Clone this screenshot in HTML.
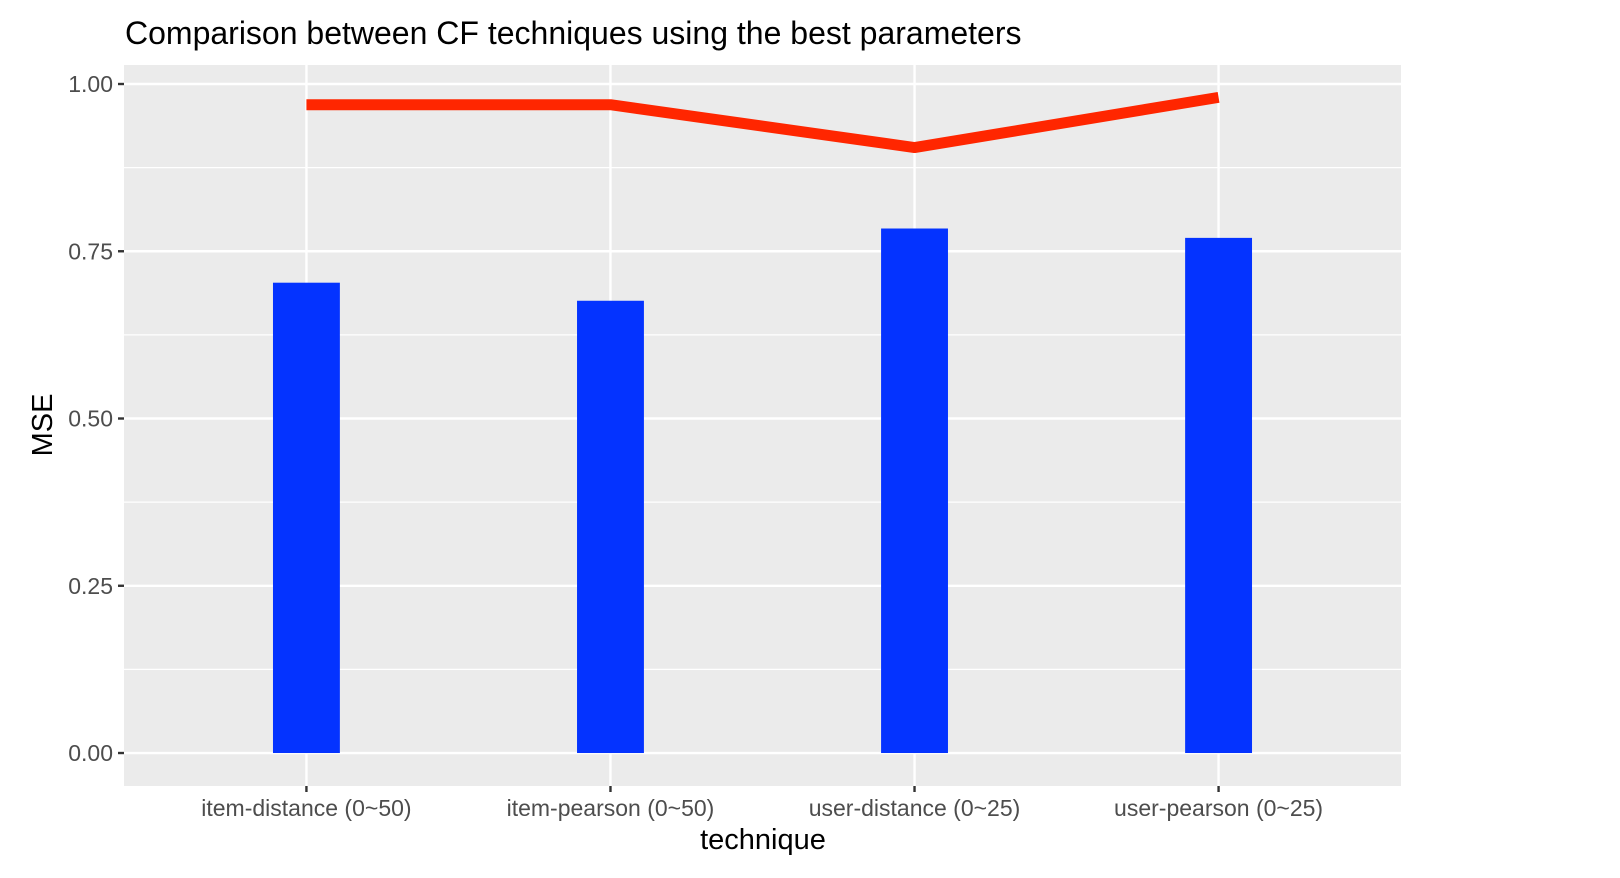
<!DOCTYPE html>
<html><head><meta charset="utf-8"><style>
html,body{margin:0;padding:0;background:#fff;}
svg{display:block;font-family:"Liberation Sans",Arial,sans-serif;}
</style></head><body>
<svg id="chart" width="1620" height="878">
<text x="125" y="44" font-size="32" fill="#000">Comparison between CF techniques using the best parameters</text>
<rect x="124" y="65" width="1277" height="721" fill="#ebebeb"/>
<g id="grid"></g>
<g id="bars"></g>
<g id="line"></g>
<g id="axes"></g>
<text x="763" y="849" font-size="29" text-anchor="middle" fill="#000">technique</text>
<text transform="translate(52,425) rotate(-90)" font-size="29" text-anchor="middle" fill="#000">MSE</text>
</svg>
<script>
const categories = ["item-distance (0~50)","item-pearson (0~50)","user-distance (0~25)","user-pearson (0~25)"];
const barValues = [0.703, 0.676, 0.784, 0.770];
const lineValues = [0.969, 0.969, 0.905, 0.980];
const yTicks = [0, 0.25, 0.5, 0.75, 1.0];
const yTickLabels = ["0.00","0.25","0.50","0.75","1.00"];

const NS = "http://www.w3.org/2000/svg";
const px0 = 124, px1 = 1401, py0 = 65, py1 = 786;
const yMin = -0.0493, yMax = 1.0284;
function y(v){ return py1 - (v - yMin) / (yMax - yMin) * (py1 - py0); }
const n = categories.length;
const step = (px1 - px0) / (n + 0.2);
function x(i){ return px0 + step * (0.6 + i); }
const barW = step * 0.22;
function mk(tag, attrs, parent){ const e = document.createElementNS(NS, tag); for (const k in attrs) e.setAttribute(k, attrs[k]); parent.appendChild(e); return e; }
const grid = document.getElementById('grid'), bars = document.getElementById('bars'), line = document.getElementById('line'), axes = document.getElementById('axes');

for (let i = 0; i < yTicks.length - 1; i++) {
  const m = (yTicks[i] + yTicks[i+1]) / 2;
  const g = mk('line', {x1:px0, x2:px1, y1:y(m), y2:y(m), stroke:'#fff', 'stroke-width':1.2}, grid);
  
  
}
yTicks.forEach((t, i) => {
  const g = mk('line', {x1:px0, x2:px1, y1:y(t), y2:y(t), stroke:'#fff', 'stroke-width':2.4}, grid);
  
  
  const tk = mk('line', {x1:px0 - 6, x2:px0, y1:y(t), y2:y(t), stroke:'#333', 'stroke-width':2.4}, axes);
  
  
  const tl = mk('text', {x:px0 - 11, y:y(t) + 8, 'font-size':23, fill:'#4d4d4d', 'text-anchor':'end'}, axes);
  tl.textContent = yTickLabels[i];
  
  
});
categories.forEach((c, i) => {
  const g = mk('line', {x1:x(i), x2:x(i), y1:py0, y2:py1, stroke:'#fff', 'stroke-width':2.4}, grid);
  
  
  const b = mk('rect', {x:x(i) - barW/2, y:y(barValues[i]), width:barW, height:y(0) - y(barValues[i]), fill:'#0433ff'}, bars);
  
  
  const tk = mk('line', {x1:x(i), x2:x(i), y1:py1, y2:py1 + 6, stroke:'#333', 'stroke-width':2.4}, axes);
  
  
  const tl = mk('text', {x:x(i), y:816, 'font-size':23, fill:'#4d4d4d', 'text-anchor':'middle'}, axes);
  tl.textContent = c;
  
  
});
const pts = lineValues.map((v, i) => x(i) + ',' + y(v)).join(' ');
const pl = mk('polyline', {points:pts, fill:'none', stroke:'#ff2600', 'stroke-width':11, 'stroke-linejoin':'round'}, line);


</script>
</body></html>
